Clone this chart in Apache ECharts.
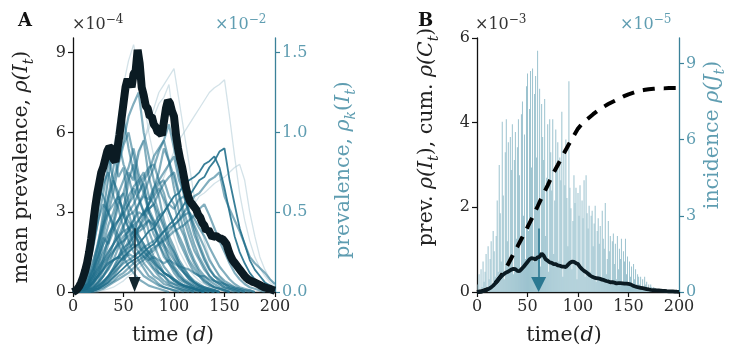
<!DOCTYPE html>
<html><head><meta charset="utf-8">
<script src="https://cdn.jsdelivr.net/npm/echarts@6/dist/echarts.min.js"></script>
<style>html,body{margin:0;padding:0;background:#fff}#c{width:735px;height:350px}</style>
</head><body><div id="c"></div>
<script>
// ---------------- DATA ----------------
const xTicks = [0, 50, 100, 150, 200];
const aLeftTicks = [0, 3, 6, 9];          // x10^-4
const aRightTicks = [0, 0.5, 1.0, 1.5];   // x10^-2
const bLeftTicks = [0, 2, 4, 6];          // x10^-3
const bRightTicks = [0, 3, 6, 9];         // x10^-5

// mean prevalence rho(I_t), x10^-4, every 2 days from t=0
const meanStep = 2;
const meanPrev = [
  0,0.04,0.1,0.2,0.35,0.55,0.8,1.1,1.5,2.0,
  2.6,3.2,3.7,4.1,4.5,4.7,5.0,5.3,5.45,5.4,
  5.0,4.9,5.4,5.9,6.5,7.1,7.7,8.0,7.9,7.7,
  8.2,8.3,9.1,8.6,7.7,7.4,7.0,6.9,6.6,6.6,
  6.3,6.2,6.0,6.0,5.9,6.4,6.9,7.2,7.1,6.8,
  6.6,5.9,5.4,5.0,4.7,4.3,3.9,3.6,3.4,3.3,
  3.2,3.1,2.9,2.8,2.6,2.5,2.3,2.35,2.2,2.05,
  2.1,2.1,2.05,2.0,2.0,1.9,1.8,1.55,1.35,1.2,
  1.1,1.0,0.9,0.8,0.7,0.6,0.52,0.46,0.42,0.38,
  0.36,0.32,0.28,0.24,0.2,0.17,0.15,0.13,0.1,0.07,
  0.05
];

// prevalence per group rho_k(I_t), x10^-2, every 5 days from t=0
const kStep = 5;
const k01 = [0,0.01,0.04,0.12,0.30,0.52,0.74,0.85,0.70,0.62,0.48,0.40,0.30,0.25,0.18,0.14,0.10,0.08,0.05,0.04,0.03,0.02,0.01,0.01,0];
const k02 = [0,0.01,0.03,0.08,0.18,0.32,0.45,0.6,0.7,0.58,0.62,0.5,0.38,0.3,0.26,0.2,0.15,0.12,0.1,0.07,0.05,0.04,0.03,0.02,0.01,0.01,0];
const k03 = [0,0,0.02,0.06,0.15,0.3,0.5,0.72,0.88,0.95,0.8,0.72,0.6,0.45,0.4,0.3,0.22,0.18,0.12,0.1,0.08,0.05,0.04,0.03,0.02,0.01,0.01,0];
const k04 = [0,0,0.01,0.04,0.1,0.2,0.35,0.5,0.62,0.8,0.92,1.0,0.85,0.7,0.62,0.5,0.42,0.3,0.24,0.18,0.14,0.1,0.07,0.05,0.03,0.02,0.01,0.01,0];
const k05 = [0,0,0.01,0.03,0.08,0.16,0.3,0.42,0.5,0.62,0.7,0.78,0.9,0.74,0.66,0.52,0.45,0.4,0.3,0.22,0.16,0.12,0.08,0.06,0.04,0.03,0.02,0.01,0.01,0];
const k06 = [0,0,0.02,0.05,0.12,0.25,0.4,0.55,0.7,0.82,0.95,1.1,1.18,1.25,1.0,0.85,0.7,0.6,0.45,0.35,0.28,0.2,0.15,0.1,0.07,0.05,0.03,0.02,0.01,0];
const k07 = [0,0,0,0.02,0.06,0.12,0.2,0.3,0.38,0.45,0.52,0.6,0.66,0.7,0.75,0.6,0.55,0.42,0.35,0.28,0.22,0.15,0.12,0.08,0.06,0.04,0.03,0.02,0.01,0];
const k08 = [0,0,0,0.01,0.03,0.07,0.14,0.22,0.3,0.4,0.48,0.55,0.6,0.68,0.72,0.78,0.8,0.7,0.62,0.5,0.42,0.32,0.25,0.18,0.12,0.1,0.06,0.04,0.03,0.02,0.01,0];
const k09 = [0,0,0,0.01,0.02,0.05,0.1,0.16,0.25,0.32,0.4,0.5,0.55,0.62,0.7,0.75,0.85,0.9,0.95,0.82,0.72,0.6,0.45,0.35,0.26,0.2,0.14,0.1,0.07,0.05,0.03,0.02,0.01,0];
const k10 = [0,0,0,0,0.01,0.03,0.06,0.1,0.15,0.22,0.3,0.38,0.45,0.55,0.62,0.7,0.78,0.88,0.95,1.05,0.9,0.75,0.6,0.48,0.36,0.28,0.2,0.14,0.1,0.07,0.05,0.03,0.02,0.01,0];
const k11 = [0,0,0.01,0.02,0.05,0.1,0.18,0.25,0.3,0.35,0.42,0.48,0.5,0.55,0.6,0.58,0.65,0.7,0.75,0.8,0.85,0.7,0.62,0.5,0.4,0.3,0.22,0.15,0.1,0.08,0.05,0.03,0.02,0.01,0];
const k12 = [0,0,0,0.01,0.03,0.06,0.1,0.15,0.2,0.22,0.28,0.3,0.35,0.38,0.4,0.45,0.42,0.48,0.5,0.55,0.52,0.58,0.6,0.5,0.42,0.35,0.28,0.2,0.15,0.1,0.07,0.05,0.03,0.02,0.01,0];
const k13 = [0,0,0,0.01,0.02,0.04,0.07,0.1,0.14,0.18,0.22,0.25,0.28,0.3,0.34,0.38,0.4,0.45,0.5,0.55,0.6,0.62,0.68,0.7,0.72,0.75,0.8,0.82,0.85,0.78,0.65,0.5,0.35,0.25,0.18,0.12,0.08,0.05,0.03,0.02,0.01];
const k14 = [0,0,0,0,0.01,0.02,0.04,0.06,0.09,0.12,0.15,0.18,0.2,0.22,0.25,0.28,0.3,0.34,0.38,0.42,0.45,0.5,0.55,0.6,0.65,0.7,0.72,0.78,0.82,0.88,0.9,0.7,0.55,0.4,0.3,0.2,0.14,0.1,0.06,0.04,0.02];
const k15 = [0,0,0,0,0,0.01,0.02,0.04,0.06,0.08,0.1,0.12,0.15,0.18,0.2,0.24,0.26,0.3,0.34,0.38,0.42,0.45,0.5,0.55,0.6,0.62,0.66,0.7,0.72,0.75,0.6,0.52,0.45,0.38,0.3,0.22,0.18,0.15,0.12,0.08,0.05];
const k16 = [0,0.01,0.03,0.08,0.15,0.22,0.3,0.36,0.42,0.45,0.5,0.44,0.4,0.35,0.3,0.25,0.2,0.15,0.12,0.1,0.07,0.05,0.04,0.03,0.02,0.01,0];
const k17 = [0,0,0.01,0.03,0.07,0.12,0.18,0.22,0.26,0.3,0.32,0.35,0.38,0.4,0.42,0.45,0.4,0.35,0.3,0.25,0.2,0.16,0.12,0.09,0.06,0.04,0.03,0.02,0.01,0];
const k18 = [0,0.02,0.06,0.15,0.3,0.45,0.55,0.5,0.42,0.35,0.28,0.22,0.18,0.14,0.1,0.08,0.06,0.04,0.03,0.02,0.01,0.01,0];
const k19 = [0,0,0,0.01,0.02,0.04,0.06,0.09,0.12,0.15,0.18,0.2,0.22,0.25,0.28,0.3,0.32,0.35,0.38,0.4,0.42,0.45,0.48,0.5,0.46,0.4,0.35,0.28,0.22,0.16,0.12,0.08,0.05,0.03,0.02,0.01,0];
const k20 = [0,0,0.01,0.03,0.06,0.1,0.14,0.18,0.2,0.22,0.2,0.24,0.22,0.25,0.22,0.2,0.22,0.2,0.18,0.2,0.18,0.16,0.15,0.14,0.12,0.1,0.1,0.08,0.07,0.06,0.05,0.04,0.03,0.02,0.01,0.01,0];
const k21 = [0,0.03,0.1,0.25,0.45,0.65,0.6,0.5,0.4,0.3,0.22,0.16,0.12,0.08,0.06,0.04,0.03,0.02,0.01,0];
const k22 = [0,0,0,0,0.01,0.03,0.06,0.1,0.15,0.2,0.26,0.32,0.38,0.45,0.5,0.55,0.6,0.65,0.58,0.5,0.42,0.35,0.28,0.2,0.15,0.1,0.07,0.05,0.03,0.02,0.01,0];
const k23 = [0,0.01,0.05,0.14,0.28,0.45,0.62,0.8,0.9,0.72,0.78,0.55,0.48,0.35,0.3,0.22,0.18,0.12,0.1,0.06,0.05,0.03,0.02,0.01,0];
const k24 = [0,0,0.02,0.05,0.12,0.22,0.34,0.3,0.45,0.58,0.52,0.7,0.8,0.62,0.68,0.5,0.44,0.32,0.28,0.2,0.15,0.1,0.07,0.05,0.03,0.02,0.01,0];
const k25 = [0,0,0.01,0.03,0.08,0.14,0.22,0.35,0.42,0.55,0.62,0.75,0.7,0.88,0.95,0.72,0.6,0.5,0.42,0.3,0.25,0.18,0.12,0.08,0.05,0.03,0.02,0.01,0];
const k26 = [0,0,0,0.01,0.03,0.06,0.1,0.14,0.2,0.28,0.32,0.4,0.45,0.5,0.48,0.55,0.62,0.68,0.7,0.6,0.55,0.42,0.35,0.25,0.18,0.12,0.08,0.05,0.03,0.02,0.01,0];
const k27 = [0,0.01,0.04,0.1,0.2,0.3,0.42,0.5,0.55,0.6,0.48,0.4,0.42,0.3,0.22,0.18,0.14,0.1,0.07,0.05,0.03,0.02,0.01,0];
const k28 = [0,0,0,0,0.01,0.02,0.05,0.08,0.12,0.18,0.22,0.3,0.35,0.4,0.45,0.52,0.55,0.62,0.68,0.72,0.75,0.62,0.5,0.4,0.3,0.22,0.16,0.1,0.07,0.05,0.03,0.02,0.01,0];
const k29 = [0,0.02,0.08,0.2,0.38,0.55,0.68,0.75,0.6,0.52,0.4,0.32,0.25,0.2,0.15,0.1,0.08,0.05,0.03,0.02,0.01,0];
const k30 = [0,0,0.01,0.04,0.1,0.18,0.25,0.32,0.4,0.45,0.5,0.55,0.65,0.58,0.5,0.45,0.36,0.3,0.22,0.18,0.12,0.08,0.06,0.04,0.02,0.01,0];
const k31 = [0,0,0,0.02,0.05,0.1,0.15,0.2,0.25,0.3,0.35,0.38,0.42,0.45,0.5,0.52,0.55,0.48,0.4,0.32,0.25,0.18,0.14,0.1,0.06,0.04,0.02,0.01,0];
const k32 = [0,0.01,0.02,0.05,0.1,0.15,0.2,0.25,0.3,0.35,0.38,0.4,0.36,0.32,0.28,0.25,0.2,0.16,0.12,0.1,0.07,0.05,0.03,0.02,0.01,0];
const k33 = [0,0,0,0,0.01,0.02,0.03,0.05,0.07,0.1,0.12,0.15,0.18,0.2,0.22,0.25,0.28,0.3,0.32,0.35,0.38,0.4,0.42,0.45,0.48,0.52,0.55,0.48,0.4,0.32,0.25,0.18,0.12,0.08,0.05,0.03,0.02,0.01,0];
const k34 = [0,0,0.01,0.03,0.06,0.1,0.14,0.18,0.2,0.22,0.25,0.28,0.3,0.28,0.25,0.22,0.18,0.15,0.12,0.1,0.08,0.06,0.04,0.03,0.02,0.01,0];
const k35 = [0,0,0,0,0.01,0.02,0.04,0.07,0.1,0.15,0.2,0.26,0.32,0.4,0.48,0.55,0.65,0.75,0.9,0.82,0.65,0.5,0.38,0.28,0.2,0.14,0.1,0.07,0.05,0.03,0.02,0.01,0];
const k36 = [0,0,0.02,0.06,0.14,0.26,0.42,0.6,0.78,0.95,1.1,0.9,0.75,0.6,0.5,0.38,0.3,0.22,0.16,0.12,0.08,0.06,0.04,0.03,0.02,0.01,0];
const f01 = [0,0,0.02,0.06,0.15,0.3,0.5,0.7,0.9,1.1,1.3,1.45,1.55,1.4,1.2,1.0,0.85,0.7,0.55,0.45,0.35,0.26,0.2,0.14,0.1,0.07,0.05,0.03,0.02,0.01,0];
const f02 = [0,0,0,0.01,0.03,0.07,0.12,0.2,0.3,0.42,0.55,0.65,0.75,0.85,0.95,1.05,1.15,1.25,1.3,1.35,1.4,1.2,1.0,0.8,0.6,0.45,0.32,0.22,0.15,0.1,0.06,0.04,0.02,0.01,0];
const f03 = [0,0,0,0,0.01,0.02,0.04,0.07,0.1,0.14,0.18,0.24,0.3,0.36,0.42,0.5,0.58,0.65,0.72,0.8,0.88,0.95,1.0,1.05,1.1,1.15,1.2,1.25,1.28,1.3,1.33,1.1,0.85,0.62,0.45,0.32,0.22,0.15,0.1,0.06,0.03];
const f04 = [0,0,0.01,0.03,0.07,0.14,0.22,0.32,0.42,0.52,0.6,0.7,0.8,0.88,0.95,1.02,1.1,1.18,1.22,1.3,1.05,0.85,0.65,0.5,0.38,0.28,0.2,0.14,0.1,0.06,0.04,0.02,0.01,0];
const f05 = [0,0,0,0,0,0,0.01,0.02,0.03,0.05,0.07,0.1,0.12,0.15,0.18,0.2,0.24,0.28,0.32,0.36,0.4,0.45,0.5,0.52,0.55,0.6,0.62,0.65,0.68,0.7,0.72,0.75,0.78,0.8,0.7,0.5,0.35,0.22,0.14,0.08,0.04];

// incidence rho(J_t), x10^-5, days 1..200
const incidence = [
  0.3,0.7,0.1,0.9,0.2,1.2,0.4,0.8,1.5,0.2,
  1.8,0.5,1.3,2.0,0.3,2.4,1.6,0.6,2.2,3.6,
  0.8,5.0,3.1,1.2,6.7,3.8,0.5,5.5,6.8,2.0,
  5.9,1.0,6.1,4.8,6.6,0.7,5.2,6.3,2.1,5.7,
  6.8,4.6,0.9,7.0,7.5,3.0,6.2,1.3,8.1,8.6,
  2.4,7.2,8.7,4.9,8.8,1.2,7.8,8.5,5.3,9.5,
  3.5,8.0,1.0,7.4,6.1,5.2,7.6,2.2,4.5,6.6,
  0.8,6.8,5.5,4.0,6.8,1.5,3.6,6.4,4.8,5.9,
  1.2,5.3,4.4,7.1,0.6,5.6,4.2,6.0,3.7,1.8,
  8.3,4.1,3.3,0.9,2.8,4.6,3.5,4.1,0.5,3.9,
  3.0,4.2,1.0,3.6,2.9,4.4,0.6,4.6,3.1,2.5,
  3.4,0.8,3.0,3.2,1.8,2.7,3.4,0.4,2.4,2.9,
  1.9,2.6,0.5,3.2,2.1,1.7,3.5,0.7,1.3,2.8,
  1.6,2.2,0.3,2.0,2.3,1.1,1.9,0.5,2.2,0.9,
  1.7,1.3,2.1,0.4,1.6,1.2,2.1,0.7,1.4,0.3,
  1.2,0.6,1.0,0.3,1.1,0.5,0.9,0.2,0.7,0.6,
  0.3,0.6,0.1,0.5,0.2,0.6,0.3,0.4,0.1,0.3,
  0.1,0.3,0.2,0.1,0.2,0.1,0.15,0.1,0.05,0.1,
  0.05,0.1,0,0.05,0,0.05,0,0,0.03,0,
  0,0,0,0,0,0,0,0,0,0
];

// cumulative rho(C_t), x10^-3, every 5 days from t=0
const cumStep = 5;
const cumulative = [
  0,0.02,0.06,0.14,0.26,0.42,0.62,0.85,1.07,1.3,
  1.53,1.77,2.02,2.28,2.52,2.78,3.0,3.23,3.45,3.66,
  3.86,4.0,4.1,4.2,4.29,4.37,4.44,4.5,4.56,4.62,
  4.67,4.71,4.75,4.77,4.79,4.8,4.81,4.81,4.82,4.82,
  4.82
];

const peakDay = 61;
const arrowTopA = 2.4;   // x10^-4
const arrowTopB = 1.5;   // x10^-3

// ---------------- CHART ----------------
const serif = 'DejaVu Serif';
const black = '#111111';
const tickText = '#2a2a2a';
const tealAxis = '#3b8199';
const tealText = '#5f9db1';
const gridH = 254;
const aMax = 9.55, aRMax = 9.55 / 6, bMax = 6, bRMax = 10;
const headLen = 15;

const denseLines = [k01,k02,k03,k04,k05,k06,k07,k08,k09,k10,k11,k12,k16,k17,k18,k19,k20,k21,k22,k15,
                    k23,k24,k25,k26,k27,k28,k29,k30,k31,k32,k33,k34,k35,k36];
const darkLines = [k13,k14];
const fadedLines = [f01,f02,f03,f04,f05];

function pairs(step, arr, scale) {
  return arr.map((v, i) => [i * step, v * (scale || 1)]);
}

const series = [];
fadedLines.forEach(a => series.push({
  type: 'line', xAxisIndex: 0, yAxisIndex: 1, data: pairs(kStep, a), showSymbol: false, silent: true, z: 1,
  lineStyle: { color: '#9dbfcb', width: 1.3, opacity: 0.45 }
}));
denseLines.forEach(a => series.push({
  type: 'line', xAxisIndex: 0, yAxisIndex: 1, data: pairs(kStep, a), showSymbol: false, silent: true, z: 2,
  lineStyle: { color: '#1b6b88', width: 2.2, opacity: 0.55 }
}));
darkLines.forEach(a => series.push({
  type: 'line', xAxisIndex: 0, yAxisIndex: 1, data: pairs(kStep, a), showSymbol: false, silent: true, z: 3,
  lineStyle: { color: '#22708c', width: 1.8, opacity: 0.9 }
}));
series.push({
  type: 'line', xAxisIndex: 0, yAxisIndex: 0, data: pairs(meanStep, meanPrev), showSymbol: false, silent: true, z: 5,
  lineStyle: { color: '#0b1b23', width: 8 },
  markLine: {
    silent: true, symbol: ['none', 'triangle'], symbolSize: [12, headLen], label: { show: false },
    lineStyle: { color: '#13262f', width: 1.5, type: 'solid' },
    data: [[{ coord: [peakDay, arrowTopA] }, { coord: [peakDay, (headLen / 2) * aMax / gridH] }]]
  }
});
series.push({
  type: 'bar', xAxisIndex: 1, yAxisIndex: 3, data: incidence.map((v, i) => [i + 1, v]),
  barWidth: 0.9, silent: true, z: 1, itemStyle: { color: '#9cc3cf' }
});
series.push({
  type: 'line', xAxisIndex: 1, yAxisIndex: 2, data: pairs(cumStep, cumulative), showSymbol: false, silent: true, z: 4,
  lineStyle: { color: '#000', width: 4, type: [12, 9] }
});
series.push({
  type: 'line', xAxisIndex: 1, yAxisIndex: 2, data: pairs(meanStep, meanPrev, 0.1), showSymbol: false, silent: true, z: 5,
  lineStyle: { color: '#0b1b23', width: 3.8 },
  markLine: {
    silent: true, symbol: ['none', 'triangle'], symbolSize: [15, headLen], label: { show: false },
    lineStyle: { color: '#2b7891', width: 1.6, type: 'solid' },
    data: [[{ coord: [peakDay, arrowTopB] }, { coord: [peakDay, (headLen / 2) * bMax / gridH] }]]
  }
});

function xAxisCfg(grid) {
  return {
    type: 'value', gridIndex: grid, min: 0, max: 200, interval: 50,
    axisLine: { show: true, onZero: false, lineStyle: { color: black, width: 1.3 } },
    axisTick: { show: true, inside: false, length: 5, customValues: xTicks, lineStyle: { color: black, width: 1.2 } },
    axisLabel: { color: tickText, fontFamily: serif, fontSize: 16, margin: 7, customValues: xTicks },
    splitLine: { show: false }
  };
}
function yAxisCfg(grid, pos, max, ticks, color, labelColor, fmt) {
  return {
    type: 'value', gridIndex: grid, position: pos, min: 0, max: max,
    axisLine: { show: true, onZero: false, lineStyle: { color: color, width: 1.3 } },
    axisTick: { show: true, inside: false, length: 5, customValues: ticks, lineStyle: { color: color, width: 1.2 } },
    axisLabel: { show: true, customValues: ticks, color: labelColor, fontFamily: serif, fontSize: 16, margin: 7,
      formatter: fmt || (v => String(v)) },
    splitLine: { show: false }
  };
}

const T = (x, y, rich, text, extra) => Object.assign({
  type: 'text', x: x, y: y, silent: true,
  style: { text: text, rich: rich, align: 'center', verticalAlign: 'middle' }
}, extra || {});

function richSet(fill, size) {
  return {
    r: { fill: fill, fontFamily: serif, fontSize: size, lineHeight: 28, verticalAlign: 'middle' },
    i: { fill: fill, fontFamily: serif, fontSize: size, fontStyle: 'italic', lineHeight: 28, verticalAlign: 'middle' },
    s: { fill: fill, fontFamily: serif, fontSize: Math.round(size * 0.68), fontStyle: 'italic', lineHeight: 15, verticalAlign: 'bottom' }
  };
}
function supSet(fill) {
  return {
    r: { fill: fill, fontFamily: serif, fontSize: 16, lineHeight: 22, verticalAlign: 'middle' },
    p: { fill: fill, fontFamily: serif, fontSize: 12, lineHeight: 12, verticalAlign: 'top' }
  };
}
const rot = Math.PI / 2;
const nameSize = 20.5;

const option = {
  animation: false,
  backgroundColor: '#fff',
  grid: [
    { left: 73, top: 38, width: 202, height: gridH },
    { left: 477, top: 38, width: 202, height: gridH }
  ],
  xAxis: [xAxisCfg(0), xAxisCfg(1)],
  yAxis: [
    yAxisCfg(0, 'left', aMax, aLeftTicks, black, tickText),
    yAxisCfg(0, 'right', aRMax, aRightTicks, tealAxis, tealText, v => v.toFixed(1)),
    yAxisCfg(1, 'left', bMax, bLeftTicks, black, tickText),
    yAxisCfg(1, 'right', bRMax, bRightTicks, tealAxis, tealText)
  ],
  series: series,
  graphic: [
    { type: 'text', x: 18, y: 12, silent: true, style: { text: 'A', fill: '#111', font: 'bold 18px "DejaVu Serif"' } },
    { type: 'text', x: 418, y: 12, silent: true, style: { text: 'B', fill: '#111', font: 'bold 18px "DejaVu Serif"' } },
    { type: 'text', x: 72, y: 14, silent: true, style: { text: '{r|×10}{p|−4}', rich: supSet('#333') } },
    { type: 'text', x: 215, y: 14, silent: true, style: { text: '{r|×10}{p|−2}', rich: supSet(tealText) } },
    { type: 'text', x: 475, y: 14, silent: true, style: { text: '{r|×10}{p|−3}', rich: supSet('#333') } },
    { type: 'text', x: 620, y: 14, silent: true, style: { text: '{r|×10}{p|−5}', rich: supSet(tealText) } },
    T(22, 167, richSet('#222', nameSize), '{r|mean prevalence, }{i|ρ(I}{s|t}{r|)}', { rotation: rot }),
    T(344, 170, richSet(tealText, nameSize), '{r|prevalence, }{i|ρ}{s|k}{r|(}{i|I}{s|t}{r|)}', { rotation: rot }),
    T(427, 137, richSet('#222', nameSize), '{r|prev. }{i|ρ(I}{s|t}{r|), cum. }{i|ρ(C}{s|t}{r|)}', { rotation: rot }),
    T(713, 135, richSet(tealText, nameSize), '{r|incidence }{i|ρ(J}{s|t}{r|)}', { rotation: rot }),
    T(173, 336, richSet('#222', nameSize), '{r|time (}{i|d}{r|)}'),
    T(564, 336, richSet('#222', nameSize), '{r|time(}{i|d}{r|)}')
  ]
};
const chart = echarts.init(document.getElementById('c'));
chart.setOption(option);
</script></body></html>
